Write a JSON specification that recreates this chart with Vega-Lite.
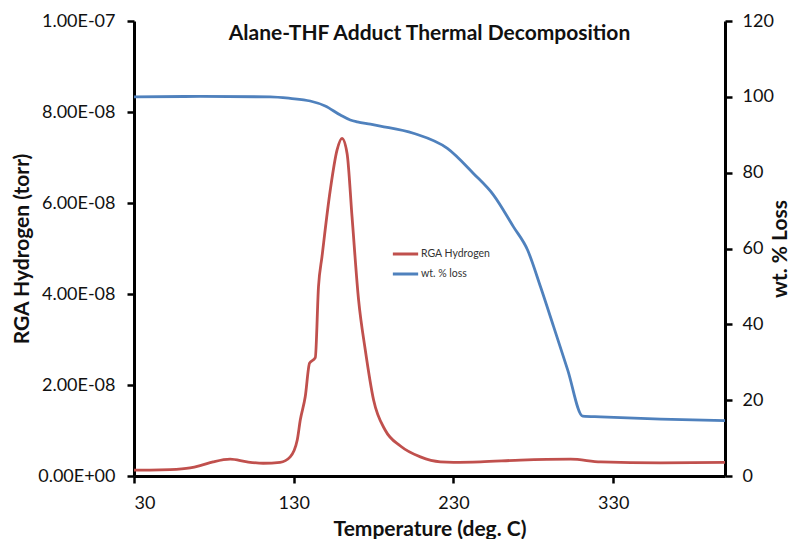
{
  "$schema": "https://vega.github.io/schema/vega-lite/v6.json",
  "width": 591,
  "height": 455,
  "autosize": {"type": "none"},
  "padding": {"left": 134, "top": 21, "right": 69, "bottom": 63},
  "background": "white",
  "config": {
    "view": {"stroke": null},
    "font": "Lato",
    "axis": {"grid": false, "domainColor": "#000", "domainWidth": 3, "tickColor": "#000", "tickWidth": 2.5, "tickSize": 7, "labelFont": "Lato", "labelFontSize": 18, "labelColor": "#111", "titleFont": "Lato", "titleFontSize": 21, "titleFontWeight": "bold", "titleColor": "#111"}
  },
  "title": {"text": "Alane-THF Adduct Thermal Decomposition", "font": "Lato", "fontSize": 21, "fontWeight": "bold", "color": "#111", "anchor": "middle", "offset": -32},
  "datasets": {
    "rga": [
      {"T": 30, "value": 1.3e-9}, {"T": 40, "value": 1.3e-9}, {"T": 52.6, "value": 1.4e-9}, {"T": 65.1, "value": 1.8e-9},
      {"T": 71.4, "value": 2.3e-9}, {"T": 79.5, "value": 3.1e-9}, {"T": 90.2, "value": 3.7e-9}, {"T": 100.8, "value": 3.1e-9},
      {"T": 110.9, "value": 2.8e-9}, {"T": 121.5, "value": 3.0e-9}, {"T": 127.8, "value": 4.2e-9}, {"T": 132.2, "value": 7.9e-9},
      {"T": 134.1, "value": 1.23e-8}, {"T": 137.2, "value": 1.74e-8}, {"T": 139.9, "value": 2.48e-8}, {"T": 143.5, "value": 2.6e-8},
      {"T": 145.5, "value": 4.16e-8}, {"T": 147.7, "value": 4.82e-8}, {"T": 152.9, "value": 6.29e-8}, {"T": 157.1, "value": 7.16e-8},
      {"T": 160.2, "value": 7.42e-8}, {"T": 163.4, "value": 7.09e-8}, {"T": 166.5, "value": 5.7e-8}, {"T": 170.6, "value": 3.87e-8},
      {"T": 174.8, "value": 2.77e-8}, {"T": 180.0, "value": 1.67e-8}, {"T": 187.4, "value": 1.0e-8}, {"T": 196.8, "value": 6.6e-9},
      {"T": 209.3, "value": 4.2e-9}, {"T": 221.8, "value": 3.1e-9}, {"T": 230, "value": 3.0e-9}, {"T": 246.9, "value": 3.1e-9},
      {"T": 272, "value": 3.5e-9}, {"T": 303.4, "value": 3.7e-9}, {"T": 322.2, "value": 3.1e-9}, {"T": 359.8, "value": 2.9e-9},
      {"T": 400, "value": 3.0e-9}
    ],
    "wt": [
      {"T": 30, "value": 100.0}, {"T": 71.4, "value": 100.1}, {"T": 115.3, "value": 100.0}, {"T": 127.8, "value": 99.6},
      {"T": 140.3, "value": 98.9}, {"T": 149.7, "value": 97.6}, {"T": 159.2, "value": 95.2}, {"T": 165.4, "value": 93.9},
      {"T": 169.8, "value": 93.4}, {"T": 178, "value": 92.8}, {"T": 184.2, "value": 92.3}, {"T": 204.9, "value": 90.4},
      {"T": 226.2, "value": 86.4}, {"T": 242.5, "value": 79.8}, {"T": 255.1, "value": 74.1}, {"T": 267.6, "value": 65.7},
      {"T": 276.4, "value": 59.6}, {"T": 284.5, "value": 49.9}, {"T": 292.7, "value": 39.4}, {"T": 301.5, "value": 28.0},
      {"T": 310.9, "value": 15.8}, {"T": 322.2, "value": 15.6}, {"T": 359.8, "value": 15.0}, {"T": 400, "value": 14.6}
    ]
  },
  "encoding": {
    "x": {"field": "T", "type": "quantitative", "scale": {"domain": [30, 400], "nice": false, "zero": false},
      "axis": {"values": [30, 130, 230, 330], "title": "Temperature (deg. C)", "labelPadding": 11, "titlePadding": 6}}
  },
  "layer": [
    {
      "data": {"name": "rga"},
      "mark": {"type": "line", "interpolate": "monotone", "strokeWidth": 2.8},
      "encoding": {
        "y": {"field": "value", "type": "quantitative", "scale": {"domain": [0, 1e-7], "nice": false},
          "axis": {"orient": "left", "values": [0, 2e-8, 4e-8, 6e-8, 8e-8, 1e-7], "title": "RGA Hydrogen (torr)", "labelPadding": 12, "titlePadding": 5,
            "labelExpr": "datum.value > 9.9e-8 ? '1.00E-07' : (datum.value < 1e-12 ? '0.00E+00' : format(datum.value * 1e8, '.2f') + 'E-08')"}},
        "color": {"datum": "RGA Hydrogen", "type": "nominal",
          "scale": {"domain": ["RGA Hydrogen", "wt. % loss"], "range": ["#C0504D", "#4F81BD"]},
          "legend": {"orient": "none", "legendX": 257, "legendY": 227, "title": null, "symbolType": "stroke", "symbolStrokeWidth": 3, "symbolSize": 640, "clipHeight": 12, "labelFontSize": 10.5, "labelFont": "Lato", "labelColor": "#333", "labelOffset": 1, "rowPadding": 8}}
      }
    },
    {
      "data": {"name": "wt"},
      "mark": {"type": "line", "interpolate": "monotone", "strokeWidth": 2.8},
      "encoding": {
        "y": {"field": "value", "type": "quantitative", "scale": {"domain": [0, 120], "nice": false},
          "axis": {"orient": "right", "values": [0, 20, 40, 60, 80, 100, 120], "title": "wt. % Loss", "titleAngle": -90, "labelPadding": 10, "titlePadding": 17}},
        "color": {"datum": "wt. % loss", "type": "nominal"}
      }
    }
  ],
  "resolve": {"scale": {"y": "independent"}}
}
